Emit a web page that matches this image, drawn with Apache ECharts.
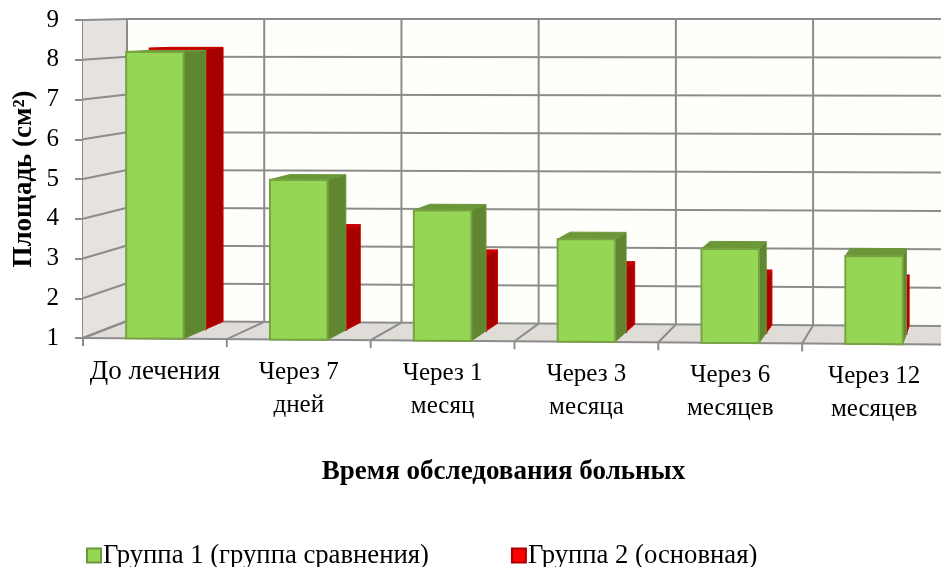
<!DOCTYPE html>
<html>
<head>
<meta charset="utf-8">
<style>html,body{margin:0;padding:0;background:#fff}#chart{width:941px;height:567px}</style>
<script src="https://cdn.jsdelivr.net/npm/echarts@6/dist/echarts.min.js"></script>
</head>
<body>
<div id="chart"></div>
<script>
const categories = ['До лечения', 'Через 7\nдней', 'Через 1\nмесяц', 'Через 3\nмесяца', 'Через 6\nмесяцев', 'Через 12\nмесяцев'];
const group1 = [8.2, 5.0, 4.25, 3.55, 3.33, 3.17];
const group2 = [8.25, 3.58, 2.93, 2.64, 2.44, 2.33];
const seriesNames = ['Группа 1 (группа сравнения)', 'Группа 2 (основная)'];

// Oblique projection of the 3D plot box: a front plane (the cartesian grid),
// a back plane shifted right and up, and a slight sag of the floor to the right.
const VMIN = 1, VMAX = 9;
const GRID = { left: 83, top: 20, width: 863, height: 318, outerBoundsMode: 'none' };
const BACK = { left: 127, top: 19, xScale: 0.954, yScale: 302 / 318 };
const SAG_FRONT = 0.0075, SAG_BACK = 0.006;
const BAR_SHARE = 0.4;      // bar width as a share of a category band
const SPLIT_DEPTH = 0.56;   // depth where the first row ends and the second begins
const SERIF = '"Liberation Serif", serif';

function project(api, X, v, d) {
  const Y = api.coord([0, v])[1];
  const h = (VMAX - v) / (VMAX - VMIN);
  const fx = X;
  const fy = Y + (X - GRID.left) * SAG_FRONT * h;
  const bx = BACK.left + (X - GRID.left) * BACK.xScale;
  const by = BACK.top + (Y - GRID.top) * BACK.yScale + (X - GRID.left) * SAG_BACK * h;
  return [fx + (bx - fx) * d, fy + (by - fy) * d];
}
const poly = (points, fill, stroke, lw) => ({
  type: 'polygon',
  shape: { points },
  style: { fill, stroke: stroke || null, lineWidth: lw || 0 }
});
const seg = (a, b, color, lw) => ({
  type: 'line',
  shape: { x1: a[0], y1: a[1], x2: b[0], y2: b[1] },
  style: { stroke: color, lineWidth: lw, fill: null }
});

// Walls, floor, grid lines and category ticks
function renderBox(params, api) {
  const band = api.size([1, 0])[0];
  const edge = i => api.coord([0, VMIN])[0] - band / 2 + i * band;
  const L = edge(0), R = edge(6);
  const P = (X, v, d) => project(api, X, v, d);
  const grid = '#8c8c8c';
  const out = [];
  out.push(poly([P(L, VMIN, 0), P(L, VMAX, 0), P(L, VMAX, 1), P(L, VMIN, 1)], '#e5e2e0'));
  out.push(poly([P(L, VMIN, 0), P(L, VMIN, 1), P(R, VMIN, 1), P(R, VMIN, 0)], '#e0dcd8'));
  out.push(poly([P(L, VMIN, 1), P(L, VMAX, 1), P(R, VMAX, 1), P(R, VMIN, 1)], '#fefefa'));
  for (let v = VMIN; v <= VMAX; v++) {
    out.push(seg(P(L, v, 0), P(L, v, 1), grid, 2));
    out.push(seg(P(L, v, 1), P(R, v, 1), grid, 2));
  }
  for (let i = 0; i <= 6; i++) {
    const X = edge(i);
    const f = P(X, VMIN, 0);
    out.push(seg(P(X, VMIN, 1), P(X, VMAX, 1), grid, 2));
    out.push(seg(f, P(X, VMIN, 1), grid, 2));
    out.push(seg(f, [f[0], f[1] + 8], grid, 2));
  }
  out.push(seg(P(L, VMIN, 0), P(R, VMIN, 0), grid, 2));
  return { type: 'group', children: out };
}

// One cuboid between two depths, showing its front, top and right faces
function cuboid(api, d0, d1, colors) {
  const i = api.value(0), v = api.value(1);
  const c = api.coord([i, VMIN])[0];
  const w = api.size([1, 0])[0] * BAR_SHARE;
  const xl = c - w / 2, xr = c + w / 2;
  const P = (X, val, d) => project(api, X, val, d);
  return {
    type: 'group',
    children: [
      poly([P(xr, VMIN, d0), P(xr, v, d0), P(xr, v, d1), P(xr, VMIN, d1)], colors.side, colors.edge, 1),
      poly([P(xl, v, d0), P(xl, v, d1), P(xr, v, d1), P(xr, v, d0)], colors.top, colors.edge, 1),
      poly([P(xl, VMIN, d0), P(xl, v, d0), P(xr, v, d0), P(xr, VMIN, d0)], colors.front, colors.frontEdge, 2)
    ]
  };
}
const greenFaces = { front: '#95d755', frontEdge: '#78a342', side: '#5f8631', top: '#6b9738', edge: '#6b9738' };
const redFaces = { front: '#ff0000', frontEdge: '#c00000', side: '#a80000', top: '#c40000', edge: '#d00000' };

const chart = echarts.init(document.getElementById('chart'));
chart.setOption({
  animation: false,
  backgroundColor: '#ffffff',
  textStyle: { fontFamily: SERIF, color: '#000' },
  grid: GRID,
  legend: {
    left: 81, top: 537, itemWidth: 14, itemHeight: 14, itemGap: 82,
    icon: 'rect',
    textStyle: { fontFamily: SERIF, fontSize: 26.7, color: '#000', padding: [0, 0, 0, -3] },
    data: seriesNames
  },
  xAxis: {
    type: 'category',
    data: categories.map((value, i) => ({
      value,
      textStyle: { padding: [i, 0, 0, 0], fontSize: i === 0 ? 27 : 25 }
    })),
    axisLine: { show: false },
    axisTick: { show: false },
    axisLabel: { interval: 0, margin: 17, fontSize: 25, lineHeight: 33, color: '#000', fontFamily: SERIF },
    name: 'Время обследования больных',
    nameLocation: 'middle',
    nameGap: 121,
    nameTextStyle: { fontSize: 27, fontWeight: 'bold', color: '#000', fontFamily: SERIF, padding: [0, 22, 0, 0] }
  },
  yAxis: {
    type: 'value',
    min: VMIN, max: VMAX, interval: 1,
    splitLine: { show: false },
    axisLine: { show: true, lineStyle: { color: '#8c8c8c', width: 2 } },
    axisTick: { show: true, length: 8, lineStyle: { color: '#8c8c8c', width: 2 } },
    axisLabel: { margin: 24, fontSize: 25, color: '#000', fontFamily: SERIF, padding: [3, 0, 0, 0] },
    name: 'Площадь (см²)',
    nameLocation: 'middle',
    nameGap: 45,
    nameMoveOverlap: false,
    nameTextStyle: { fontSize: 27, fontWeight: 'bold', color: '#000', fontFamily: SERIF }
  },
  series: [
    {
      type: 'custom', silent: true, clip: false, z: 1,
      data: [[0, VMIN]],
      encode: { x: 0, y: 1 },
      renderItem: renderBox
    },
    {
      name: seriesNames[1], type: 'custom', clip: false, z: 2,
      itemStyle: { color: '#ff0000', borderColor: '#a80000', borderWidth: 1 },
      data: group2.map((v, i) => [i, v]),
      encode: { x: 0, y: 1 },
      renderItem: (p, api) => cuboid(api, SPLIT_DEPTH, 1, redFaces)
    },
    {
      name: seriesNames[0], type: 'custom', clip: false, z: 3,
      itemStyle: { color: '#95d755', borderColor: '#6b9738', borderWidth: 2 },
      data: group1.map((v, i) => [i, v]),
      encode: { x: 0, y: 1 },
      renderItem: (p, api) => cuboid(api, 0, SPLIT_DEPTH, greenFaces)
    }
  ]
});
</script>
</body>
</html>
